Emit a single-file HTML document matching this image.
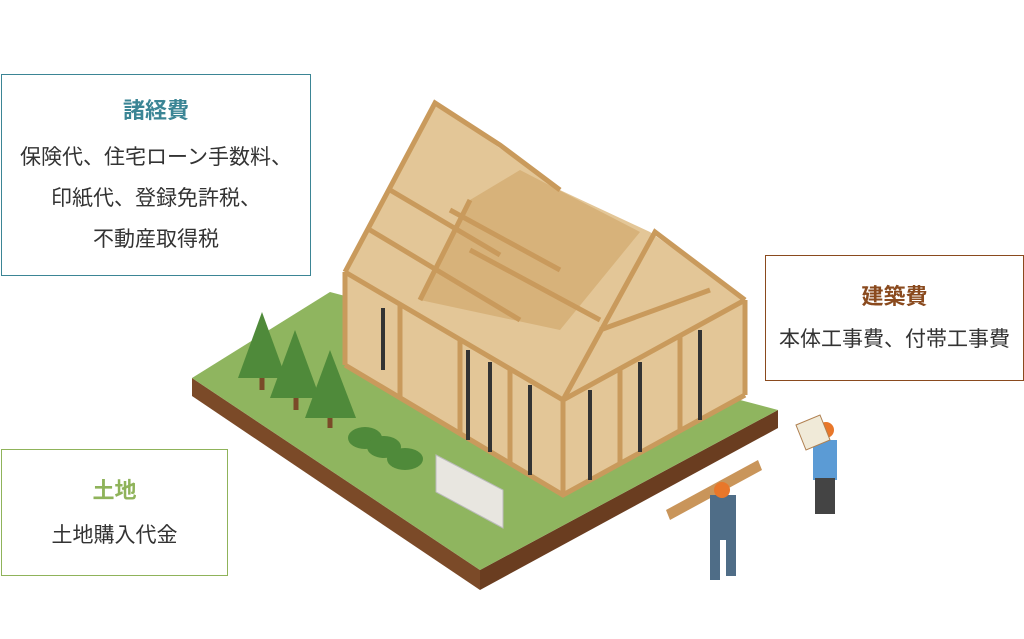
<!DOCTYPE html>
<html><head><meta charset="utf-8"><style>
html,body{margin:0;padding:0;background:#fff;width:1024px;height:639px;overflow:hidden;position:relative;font-family:"Liberation Sans","Noto Sans CJK JP",sans-serif;}
.box{position:absolute;background:#fff;box-sizing:border-box;text-align:center;color:#333;font-size:21px;line-height:24px;}
.box h3{margin:0;font-size:22px;line-height:26px;font-weight:bold;}
.box p{margin:0;}
</style></head><body>
<svg width="1024" height="639" style="position:absolute;left:0;top:0">
<polygon points="192,378 480,570 480,590 192,396" fill="#7b4a28"/>
<polygon points="480,570 778,410 778,428 480,590" fill="#6a3d20"/>
<polygon points="192,378 330,292 778,410 480,570" fill="#8fb55f"/>
<polygon points="345,272 435,103 560,190 650,232 745,300 745,395 563,495 345,365" fill="#e3c697"/>
<polygon points="420,300 470,200 520,170 640,232 560,330" fill="#d7b27a"/>
<g stroke="#c99a5c" stroke-width="5" fill="none">
<polyline points="345,272 435,103 500,145 560,190"/>
<line x1="420" y1="300" x2="470" y2="200"/>
<line x1="390" y1="190" x2="500" y2="255"/><line x1="370" y1="230" x2="520" y2="320"/>
<line x1="450" y1="210" x2="560" y2="270"/><line x1="470" y1="250" x2="600" y2="320"/>
<polyline points="345,272 563,400 745,300"/>
<polyline points="345,365 563,495 745,395"/>
<line x1="345" y1="272" x2="345" y2="365"/><line x1="563" y1="400" x2="563" y2="495"/><line x1="745" y1="300" x2="745" y2="395"/>
<line x1="400" y1="305" x2="400" y2="397"/><line x1="460" y1="340" x2="460" y2="432"/><line x1="510" y1="370" x2="510" y2="462"/>
<line x1="620" y1="368" x2="620" y2="465"/><line x1="680" y1="336" x2="680" y2="430"/>
<polyline points="563,400 655,232 745,300"/>
<line x1="600" y1="330" x2="710" y2="290"/>
</g>
<g stroke="#333" stroke-width="4">
<line x1="468" y1="350" x2="468" y2="440"/><line x1="490" y1="362" x2="490" y2="452"/><line x1="530" y1="385" x2="530" y2="475"/>
<line x1="590" y1="390" x2="590" y2="480"/><line x1="640" y1="362" x2="640" y2="452"/><line x1="700" y1="330" x2="700" y2="420"/>
<line x1="383" y1="308" x2="383" y2="370"/>
</g>
<g fill="#4f8a3a"><polygon points="262,312 238,378 286,378"/><polygon points="295,330 270,398 320,398"/><polygon points="330,350 305,418 356,418"/></g>
<g stroke="#7a4a28" stroke-width="5"><line x1="262" y1="378" x2="262" y2="390"/><line x1="296" y1="398" x2="296" y2="410"/><line x1="330" y1="418" x2="330" y2="428"/></g>
<g fill="#4f8a3a"><ellipse cx="365" cy="438" rx="17" ry="11"/><ellipse cx="384" cy="447" rx="17" ry="11"/><ellipse cx="405" cy="459" rx="18" ry="11"/></g>
<polygon points="436,455 503,490 503,528 436,492" fill="#e8e6e0" stroke="#bbb"/>
<polygon points="666,510 758,460 762,470 670,520" fill="#c9955a"/>
<rect x="710" y="495" width="26" height="45" fill="#4f6d87"/>
<rect x="710" y="538" width="10" height="42" fill="#4f6d87"/><rect x="726" y="538" width="10" height="38" fill="#4f6d87"/>
<circle cx="722" cy="490" r="8" fill="#e8772a"/>
<rect x="813" y="440" width="24" height="40" fill="#5b9bd5"/>
<rect x="815" y="478" width="20" height="36" fill="#444"/>
<circle cx="826" cy="430" r="8" fill="#e8772a"/>
<polygon points="796,425 820,415 830,440 806,450" fill="#f0ead8" stroke="#b08050"/>
</svg>
<div class="box" style="left:1px;top:74px;width:310px;height:202px;border:1.5px solid #3b8595;padding-top:23px">
<h3 style="color:#3b8595">諸経費</h3>
<p style="margin-top:22px">保険代、住宅ローン手数料、</p>
<p style="margin-top:17px">印紙代、登録免許税、</p>
<p style="margin-top:17px">不動産取得税</p>
</div>
<div class="box" style="left:765px;top:255px;width:259px;height:126px;border:1.5px solid #8a4a1e;padding-top:28px">
<h3 style="color:#8a4a1e">建築費</h3>
<p style="margin-top:18px">本体工事費、付帯工事費</p>
</div>
<div class="box" style="left:1px;top:449px;width:227px;height:127px;border:1.5px solid #8fb35a;padding-top:28px">
<h3 style="color:#8fb35a">土地</h3>
<p style="margin-top:20px">土地購入代金</p>
</div>
</body></html>
